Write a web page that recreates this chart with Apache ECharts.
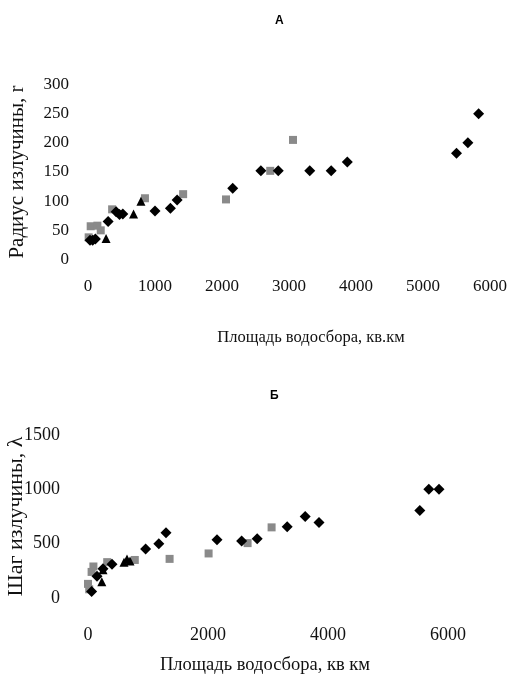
<!DOCTYPE html>
<html><head><meta charset="utf-8">
<script src="https://cdn.jsdelivr.net/npm/echarts@6/dist/echarts.min.js"></script>
<style>html,body{margin:0;padding:0;background:#fff}#c{width:522px;height:677px}</style>
</head><body><div id="c"></div>
<script>
// Chart A: meander radius vs catchment area
var aDiamondX = [30, 70, 110, 300, 420, 470, 520, 1000, 1230, 1330, 2160, 2580, 2840, 3310, 3630, 3870, 5500, 5670, 5830];
var aDiamondY = [33, 33, 35, 65, 82, 77, 78, 83, 88, 102, 122, 152, 152, 152, 152, 167, 182, 200, 250];
var aSquareX = [10, 40, 140, 190, 360, 850, 1420, 2060, 2720, 3060];
var aSquareY = [38, 57, 58, 50, 86, 105, 112, 103, 152, 205];
var aTriX = [270, 680, 790];
var aTriY = [36, 78, 100];
// Chart B: meander step vs catchment area
var bDiamondX = [60, 150, 250, 400, 960, 1180, 1300, 2150, 2560, 2820, 3320, 3620, 3850, 5530, 5680, 5850];
var bDiamondY = [60, 200, 270, 310, 450, 500, 600, 535, 525, 545, 655, 750, 695, 805, 1000, 1000];
var bSquareX = [0, 20, 60, 90, 320, 780, 1360, 2010, 2660, 3060];
var bSquareY = [130, 80, 240, 290, 330, 350, 360, 410, 505, 650];
var bTriX = [230, 250, 600, 650, 700];
var bTriY = [150, 260, 330, 360, 340];

var aXTicks = [0, 6000, 1000];
var aYTicks = [0, 300, 50];
var bXTicks = [0, 6000, 2000];
var bYTicks = [0, 1500, 500];

function pairs(xs, ys){ return xs.map(function(x,i){ return [x, ys[i]]; }); }

var serif = '"Liberation Serif", "DejaVu Serif", serif';
var chart = echarts.init(document.getElementById('c'), null, {renderer:'canvas'});
function plain(v){ return String(v); }

function xAxis(gi, t, name, fs, lm, ng, nfs, pad){
  return {type:'value', gridIndex:gi, min:t[0], max:t[1], interval:t[2],
    axisLine:{show:false}, axisTick:{show:false}, splitLine:{show:false},
    axisLabel:{fontFamily:serif, fontSize:fs, color:'#111', margin:lm, formatter:plain},
    name:name, nameLocation:'middle', nameGap:ng, nameMoveOverlap:false,
    nameTextStyle:{fontFamily:serif, fontSize:nfs, color:'#111', padding:pad}};
}
function yAxis(gi, t, name, fs, lm, ng, nfs){
  return {type:'value', gridIndex:gi, min:t[0], max:t[1], interval:t[2],
    axisLine:{show:false}, axisTick:{show:false}, splitLine:{show:false},
    axisLabel:{fontFamily:serif, fontSize:fs, color:'#111', margin:lm, formatter:plain},
    name:name, nameLocation:'middle', nameGap:ng, nameRotate:90, nameMoveOverlap:false,
    nameTextStyle:{fontFamily:serif, fontSize:nfs, color:'#111'}};
}
function sc(xi, data, sym, size, color){
  return {type:'scatter', xAxisIndex:xi, yAxisIndex:xi, data:data, symbol:sym, symbolSize:size,
    itemStyle:{color:color, opacity:1}, silent:true, animation:false};
}

chart.setOption({
  animation:false,
  title:[
    {text:'А', left:270, top:10, textStyle:{fontFamily:'"Liberation Sans", Arial, sans-serif', fontSize:12, fontWeight:'bold', color:'#000'}},
    {text:'Б', left:265, top:385, textStyle:{fontFamily:'"Liberation Sans", Arial, sans-serif', fontSize:12, fontWeight:'bold', color:'#000'}}
  ],
  grid:[
    {left:88, top:84.5, width:402, height:175, containLabel:false, outerBoundsMode:'none'},
    {left:88, top:435, width:360, height:163, containLabel:false, outerBoundsMode:'none'}
  ],
  xAxis:[
    xAxis(0, aXTicks, 'Площадь водосбора, кв.км', 17, 19, 70, 16.5, [0,0,0,44]),
    xAxis(1, bXTicks, 'Площадь водосбора, кв км', 18, 28, 58, 18.5, [0,6,0,0])
  ],
  yAxis:[
    yAxis(0, aYTicks, 'Радиус излучины, r', 17, 19, 60, 21),
    yAxis(1, bYTicks, 'Шаг излучины, λ', 18, 28, 61, 22)
  ],
  series:[
    sc(0, pairs(aSquareX, aSquareY), 'rect', 8, '#8a8a8a'),
    sc(0, pairs(aDiamondX, aDiamondY), 'diamond', 11, '#000'),
    sc(0, pairs(aTriX, aTriY), 'triangle', 9, '#000'),
    sc(1, pairs(bSquareX, bSquareY), 'rect', 8, '#8a8a8a'),
    sc(1, pairs(bDiamondX, bDiamondY), 'diamond', 11, '#000'),
    sc(1, pairs(bTriX, bTriY), 'triangle', 9, '#000')
  ]
});
</script></body></html>
